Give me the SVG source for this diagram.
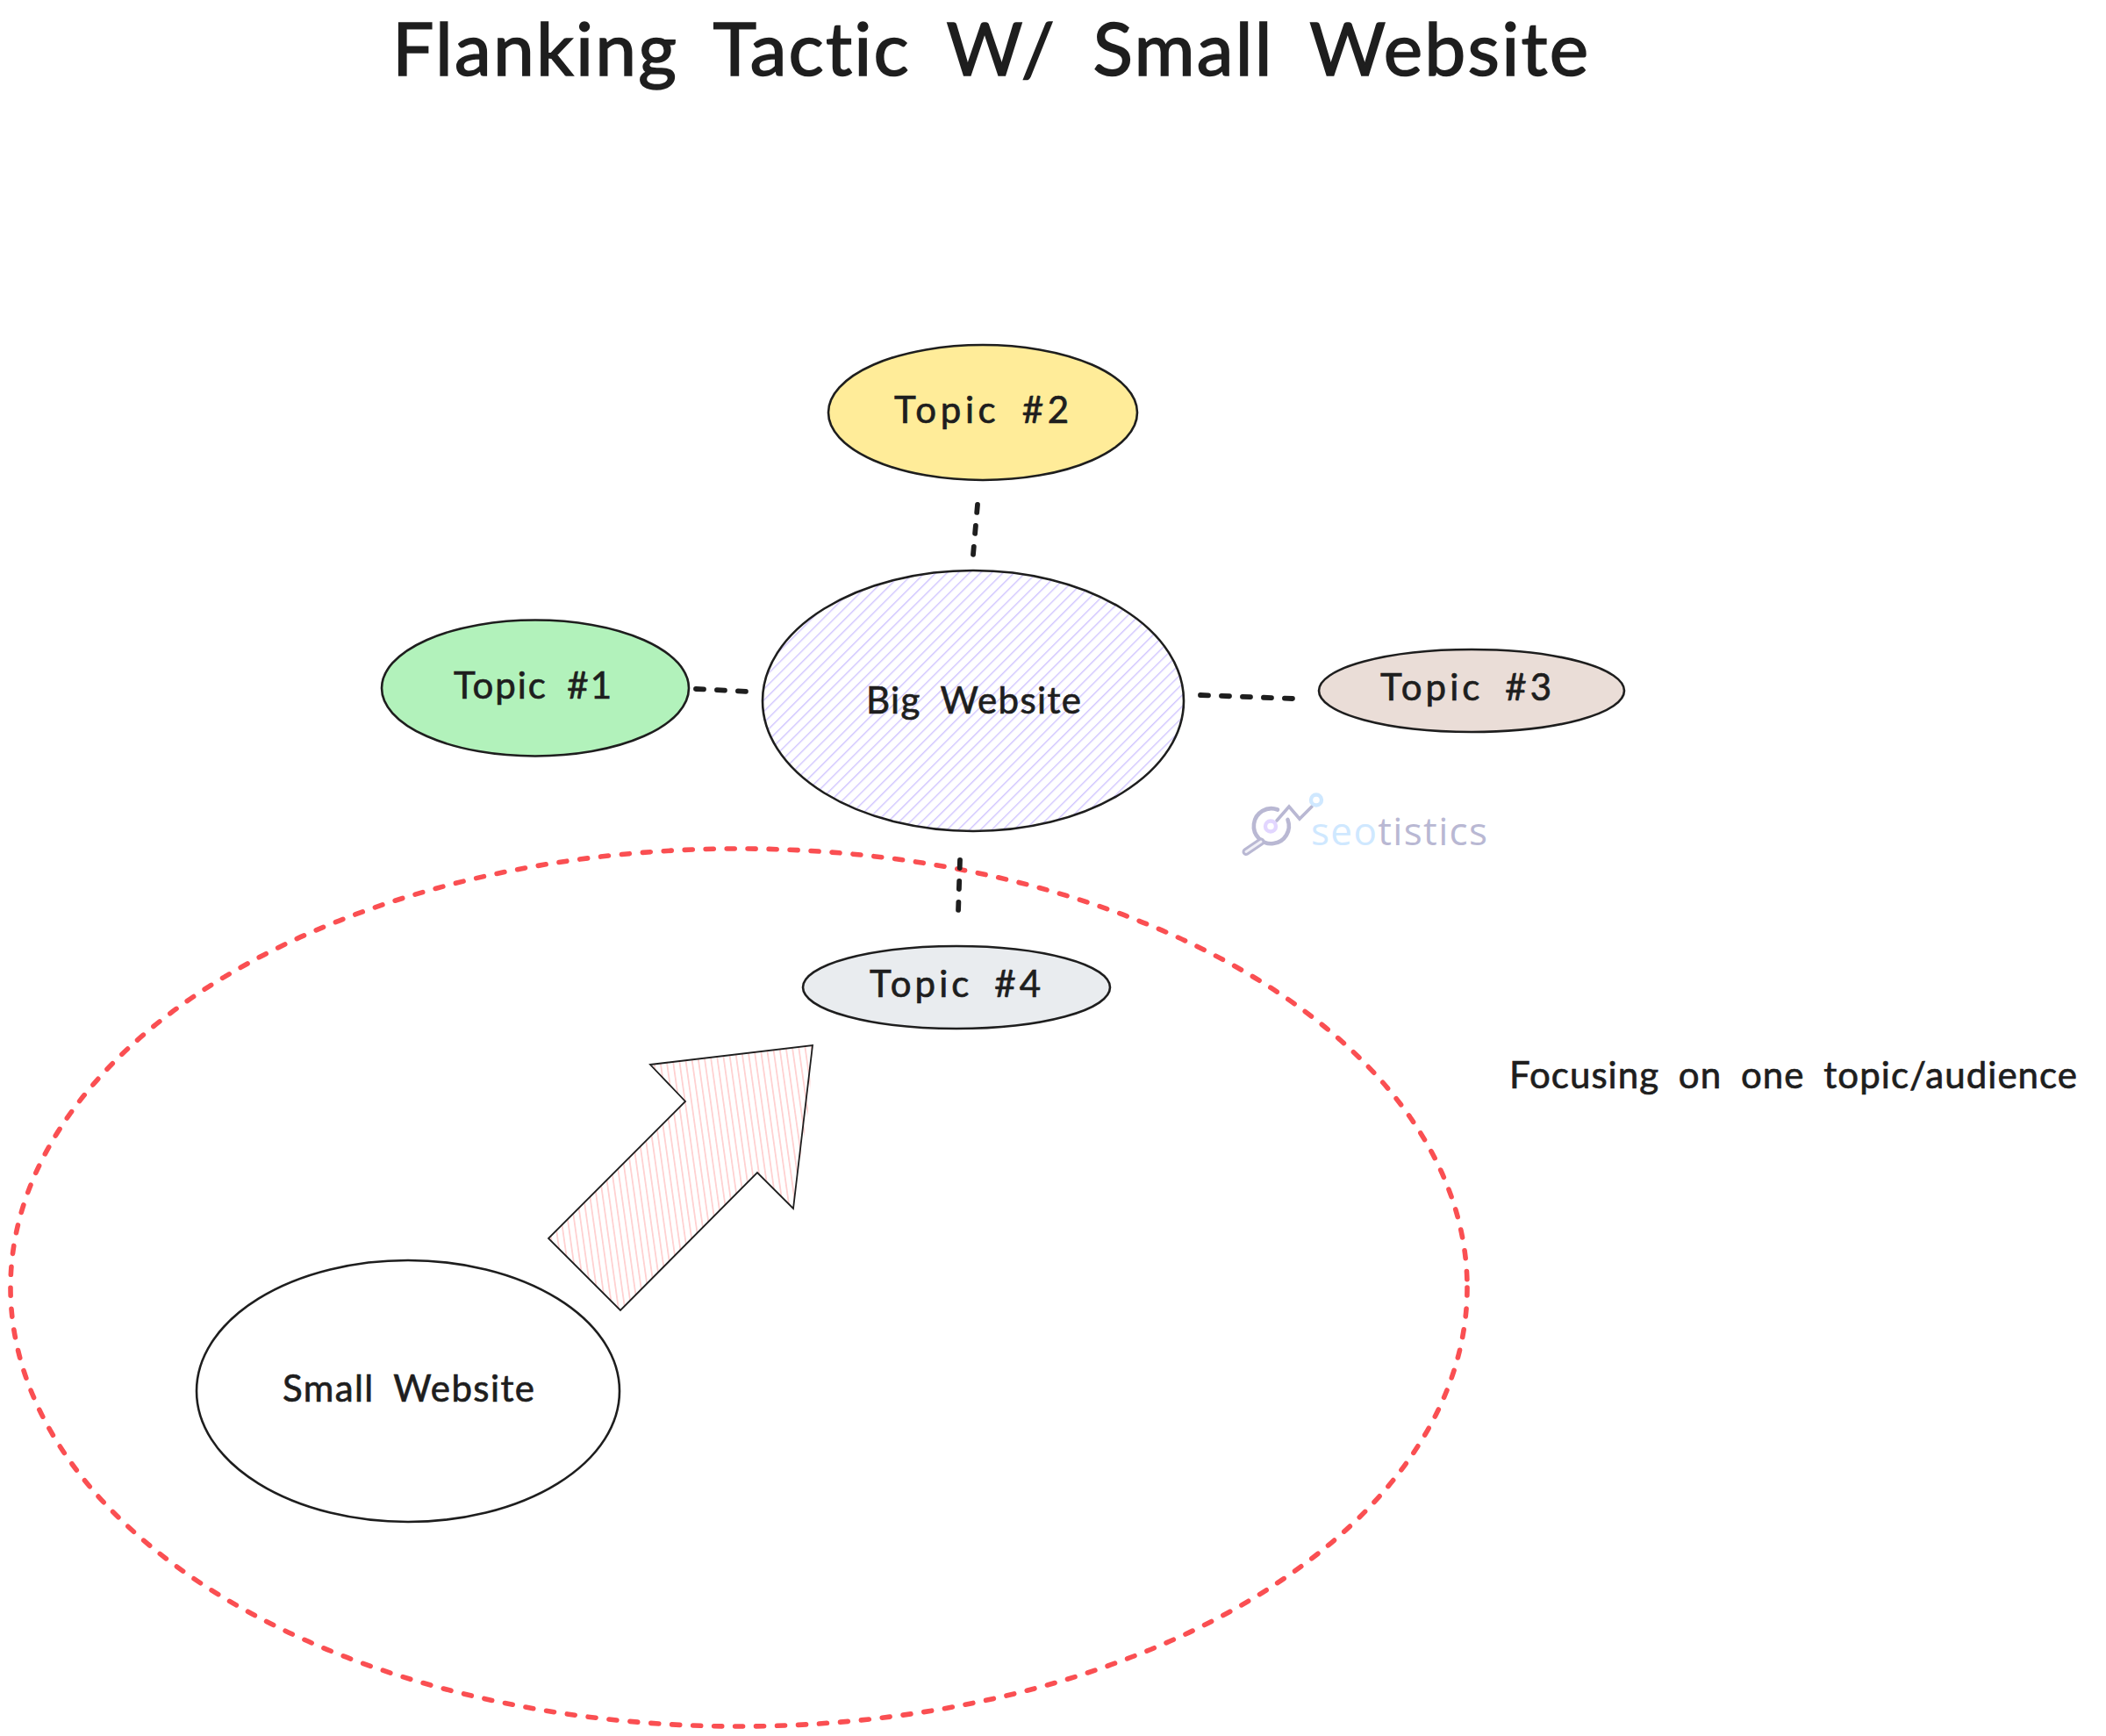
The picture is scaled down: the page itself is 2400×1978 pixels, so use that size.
<svg xmlns="http://www.w3.org/2000/svg" width="2400" height="1978" viewBox="0 0 2400 1978">
<style>
text{font-family:"Lato","Noto Sans",sans-serif;fill:#1e1e1e;font-size:42px;font-weight:400;stroke:#1e1e1e;stroke-width:.7;font-variant-ligatures:none;word-spacing:10px}
.title{font-size:84px;stroke-width:1.6;word-spacing:18px}
.shape{stroke:#1e1e1e;stroke-width:2.6}
.dash{fill:none;stroke:#1e1e1e;stroke-width:5.8;stroke-linecap:round;stroke-dasharray:9 15}
.region{fill:none;stroke:#fa4f52;stroke-width:5.6;stroke-linecap:round;stroke-dasharray:9 15}
text.logotext{font-family:"Open Sans","Noto Sans",sans-serif;font-size:44px;font-weight:400;fill:#b9b8d3;stroke:none;word-spacing:0}
.lg{fill:none;stroke:#b9b8d3;stroke-linecap:round;stroke-linejoin:miter}
</style>
<defs>
<pattern id="hachPurple" width="9" height="9" patternUnits="userSpaceOnUse" patternTransform="rotate(45)">
<rect x="0" y="0" width="1.4" height="9" fill="#d0c4ff"/>
</pattern>
<pattern id="hachPink" width="7.2" height="20" patternUnits="userSpaceOnUse" patternTransform="rotate(-8)">
<rect x="0" y="0" width="1.7" height="20" fill="#ffcfcf"/>
</pattern>
</defs>
<rect width="2400" height="1978" fill="#ffffff"/>
<g id="title"><text class="title" x="447" y="86" textLength="1363" lengthAdjust="spacing">Flanking Tactic W/ Small Website</text></g>
<g id="focus-region"><ellipse class="region" cx="842" cy="1467" rx="830" ry="500"/></g>
<g id="connectors">
<path class="dash" d="M1114 575L1109 632"/>
<path class="dash" d="M793 785L854 788"/>
<path class="dash" d="M1368 792L1473 796"/>
<path class="dash" d="M1094 980L1092 1039"/>
<g id="block-arrow">
<polygon points="741,1213 926,1191 922,1260 906,1356 904,1377 863,1336 707,1493 625,1411 781,1255" fill="url(#hachPink)"/>
<polygon points="741,1213 926,1191 904,1377 863,1336 707,1493 625,1411 781,1255" fill="none" stroke="#1e1e1e" stroke-width="1.8" stroke-linejoin="miter"/>
</g>
</g>
<g id="topic-2"><ellipse class="shape" cx="1120" cy="470" rx="176" ry="77" fill="#ffec99"/><text x="1019" y="482" textLength="199">Topic #2</text></g>
<g id="topic-1"><ellipse class="shape" cx="610" cy="784" rx="175" ry="77.5" fill="#b2f2bb"/><text x="517" y="796" textLength="180">Topic #1</text></g>
<g id="big-website"><ellipse class="shape" cx="1109" cy="798.5" rx="240" ry="148.5" fill="url(#hachPurple)"/><text x="987" y="813" textLength="245">Big Website</text></g>
<g id="topic-3"><ellipse class="shape" cx="1677" cy="787" rx="174" ry="47" fill="#eaddd7"/><text x="1573" y="798" textLength="195">Topic #3</text></g>
<g id="topic-4"><ellipse class="shape" cx="1090" cy="1125" rx="175" ry="47" fill="#e9ecef"/><text x="991" y="1136" textLength="195">Topic #4</text></g>
<g id="small-website"><ellipse class="shape" cx="465" cy="1585" rx="241" ry="149" fill="none"/><text x="322" y="1597" textLength="287">Small Website</text></g>
<g id="note"><text x="1720" y="1240" textLength="647">Focusing on one topic/audience</text></g>
<g id="logo">
<path class="lg" stroke-width="4.6" d="M1456 922.5A20 20 0 1 0 1467.5 934"/>
<path class="lg" stroke-width="9" d="M1437 959L1420 970.5"/>
<path d="M1437 959L1420 970.5" fill="none" stroke="#f1f0f7" stroke-width="3" stroke-linecap="round"/>
<path class="lg" stroke-width="3.6" d="M1455 935L1469 919L1481 933L1495 919"/>
<circle cx="1448" cy="941.5" r="6" fill="#fff" stroke="#e2d6ff" stroke-width="4.4"/>
<circle cx="1500" cy="911.5" r="6" fill="#fff" stroke="#cfe8ff" stroke-width="4.4"/>
<text class="logotext" x="1494" y="963" textLength="201"><tspan fill="#cfe8ff">seo</tspan>tistics</text>
</g>
</svg>
